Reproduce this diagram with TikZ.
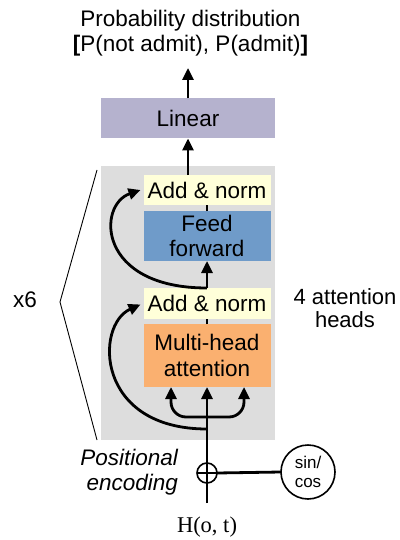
\documentclass[tikz,border=0pt]{standalone}
\usepackage{fontspec}
\setmainfont{Liberation Sans}
\newfontfamily\timesfont{Liberation Serif}
\usetikzlibrary{arrows.meta,calc}
\definecolor{graybg}{RGB}{221,221,221}
\definecolor{lav}{RGB}{181,178,206}
\definecolor{yel}{RGB}{255,255,217}
\definecolor{ffblue}{RGB}{111,155,201}
\definecolor{mhorange}{RGB}{250,176,112}
\begin{document}
\begin{tikzpicture}[x=1pt,y=-1pt,
  every node/.style={inner sep=0pt, outer sep=0pt},
  blk/.style={minimum width=127pt, align=center, font=\fontsize{22.5}{25.5}\selectfont},
  lbl/.style={font=\fontsize{22.5}{25}\selectfont, align=center},
  flow/.style={line width=2.8pt, -{Triangle[width=11pt,length=12pt]}},
  fork/.style={line width=2.8pt, rounded corners=15pt, {Triangle[width=11pt,length=12pt]}-{Triangle[width=11pt,length=12pt]}},
  wire/.style={line width=2.8pt},
  thin/.style={line width=0.9pt},
  ]
\useasboundingbox (0,0) rectangle (399,540);
% encoder block background
\node[fill=graybg, minimum width=174pt, minimum height=274pt] (enc) at (188,303) {};
\node[blk, fill=lav, minimum width=174pt, minimum height=40pt] (lin) at (188,118.5) {Linear};
\node[blk, fill=yel, minimum height=30pt] (an1) at (207,190) {Add \& norm};
\node[blk, fill=ffblue, minimum height=50pt] (ff) at (207,236) {Feed\\forward};
\node[blk, fill=yel, minimum height=31pt] (an2) at (207,303.5) {Add \& norm};
\node[blk, fill=mhorange, minimum height=63pt] (mha) at (207,355.5) {Multi-head\\attention};
% title
\node[lbl] (title) at (190.5,33) {Probability distribution\\\textbf{[}P(not admit), P(admit)\textbf{]}};
\coordinate (ptop) at (188,68);
% side labels
\node[lbl] (x6) at (25,300) {x6};
\node[lbl, font=\fontsize{22}{23}\selectfont] (heads) at (345,308) {4 attention\\heads};
\node[lbl, align=right, anchor=east, font=\fontsize{22.5}{25}\itshape] (pe) at (178,472) {Positional\\encoding};
% brace
\coordinate (b1) at (97,170);
\coordinate (b2) at (60,302);
\coordinate (b3) at (97,440);
\draw[thin] (b1) -- (b2) -- (b3);
% input
\node[font=\fontsize{22.5}{25}\timesfont, anchor=base] (h) at (207,532) {H(o, t)};
\coordinate (hin) at (207,503);
\node[circle, draw, line width=1.6pt, fill=white, minimum size=20pt] (plus) at (207,473) {};
\node[circle, draw, line width=1.6pt, fill=white, minimum size=54pt, align=center, font=\fontsize{17}{19}\selectfont] (sc) at (308,472) {sin/\\cos};
\coordinate (split) at (207,429);
% connectors
\draw[wire] (hin) -- (plus.south);
\draw[wire] (plus.east) -- (sc.west);
\draw[line width=2pt] (plus.north) -- (plus.south);
\draw[line width=2pt] (plus.west) -- (plus.east);
\draw[flow] (plus.north) -- (mha.south);
\draw[fork] ($(mha.south)+(-36,0)$) -- ($(mha.south)+(-36,30)$) -- ($(mha.south)+(37,30)$) -- ($(mha.south)+(37,0)$);
\draw[flow] (split) .. controls (95,429) and (95,325) .. ($(an2.west)+(-3,1)$);
\draw[wire] (mha.north) -- (an2.south);
\draw[flow] (an2.north) -- (ff.south);
\draw[flow] (an2.north) .. controls (97,288) and (97,205) .. ($(an1.west)+(-3,0)$);
\draw[wire] (ff.north) -- (an1.south);
\draw[flow] (an1.north -| lin.south) -- (lin.south);
\draw[flow] (lin.north) -- (lin.north |- ptop);
\end{tikzpicture}
\end{document}
